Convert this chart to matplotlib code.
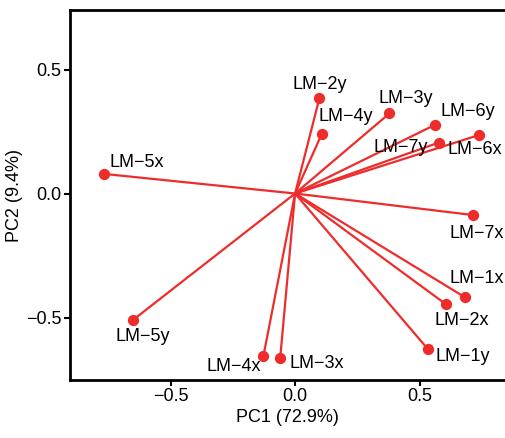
import matplotlib
matplotlib.use("Agg")
import matplotlib.pyplot as plt

plt.rcParams['font.family'] = ['Liberation Sans', 'DejaVu Sans']

labels = ["LM-5x", "LM-5y", "LM-2y", "LM-4y", "LM-3y", "LM-6y", "LM-7y",
          "LM-6x", "LM-7x", "LM-1x", "LM-2x", "LM-1y", "LM-3x", "LM-4x"]
pc1 = [-0.767, -0.651, 0.098, 0.107, 0.379, 0.560, 0.576,
       0.739, 0.716, 0.683, 0.605, 0.533, -0.060, -0.127]
pc2 = [0.079, -0.510, 0.386, 0.240, 0.323, 0.276, 0.205,
       0.236, -0.087, -0.419, -0.446, -0.627, -0.665, -0.654]
# label offsets in pixels (dx, dy) with y upward
offsets = [(33, 11), (10, -17), (0, 13), (24, 17), (16, 15), (33, 14), (-38, -5),
           (-4, -15), (3, -18), (12, 19), (16, -16), (35, -7), (37, -5), (-30, -11)]

color = '#EE2C2C'

fig = plt.figure(figsize=(5.05, 4.38), dpi=100)
ax = fig.add_axes([70/505, 58/438, 1 - 70/505, 370/438])

for x, y in zip(pc1, pc2):
    ax.plot([0, x], [0, y], color=color, lw=1.6, solid_capstyle='butt', zorder=2)
ax.scatter(pc1, pc2, s=66, color=color, zorder=3, linewidths=0)

for lab, x, y, (dx, dy) in zip(labels, pc1, pc2, offsets):
    ax.annotate(lab.replace('-', '\u2212'), (x, y), xytext=(dx, dy),
                textcoords='offset pixels', ha='center', va='center',
                fontsize=13, color='black', annotation_clip=False)

ax.set_xlim(-0.904, 0.843)
ax.set_ylim(-0.752, 0.74)
ax.set_xticks([-0.5, 0.0, 0.5])
ax.set_yticks([-0.5, 0.0, 0.5])
ax.set_xticklabels(['\u22120.5', '0.0', '0.5'])
ax.set_yticklabels(['\u22120.5', '0.0', '0.5'])
ax.tick_params(labelsize=13, width=1.5, length=4, colors='black', pad=2)
for s in ['left', 'bottom', 'top']:
    ax.spines[s].set_linewidth(2)
ax.spines['right'].set_visible(False)
ax.set_xlabel('PC1 (72.9%)', fontsize=13, labelpad=3)
ax.set_ylabel('PC2 (9.4%)', fontsize=13, labelpad=2)

fig.savefig('out.png', dpi=100)
